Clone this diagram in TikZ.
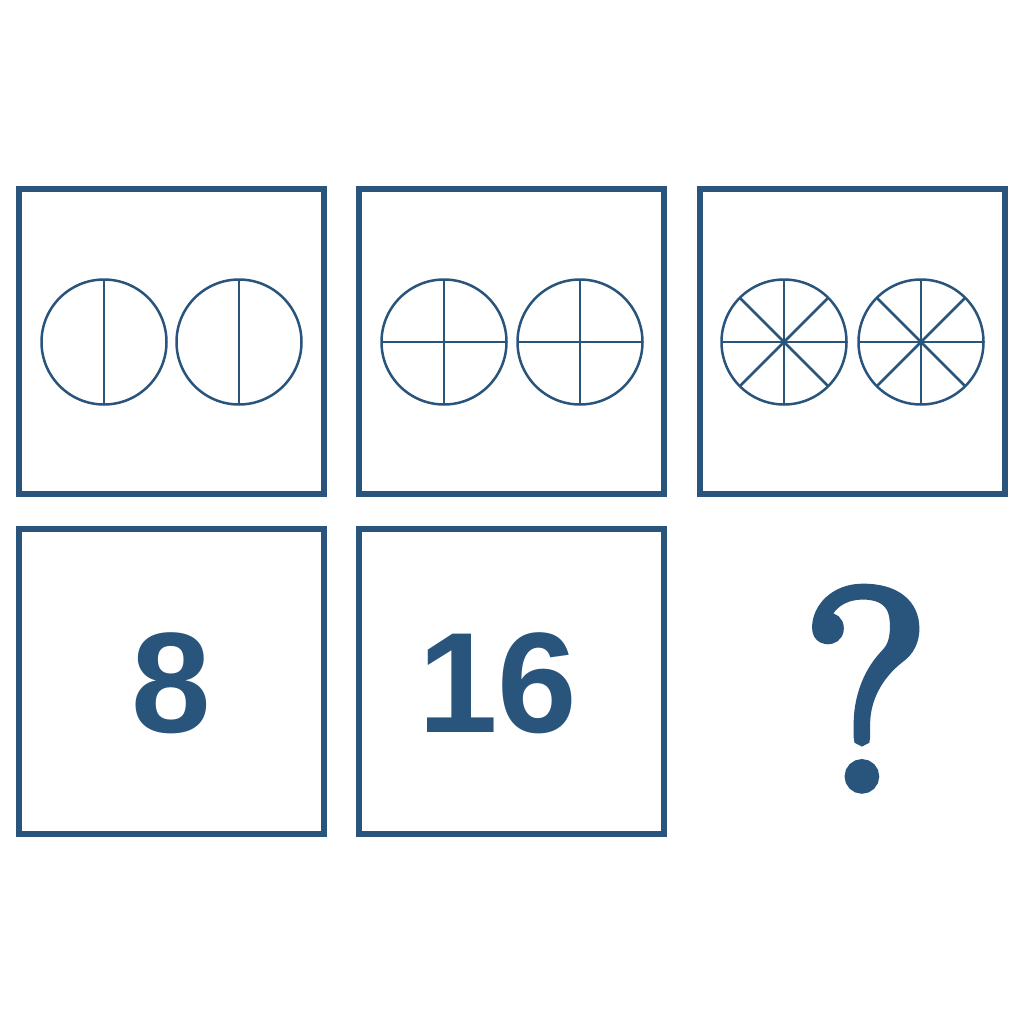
\documentclass[tikz,border=0pt]{standalone}
\usepackage{fontspec}
\usetikzlibrary{calc}
\setmainfont{Liberation Sans}
\newfontfamily\qfont[FakeBold=4]{Latin Modern Roman}
\definecolor{navy}{RGB}{41,84,124}
\begin{document}
\begin{tikzpicture}[x=1pt,y=-1pt,
  panel/.style={draw=navy,line width=6pt},
  disc/.style={draw=navy,line width=2.5pt},
  numtext/.style={text=navy,font=\fontsize{143}{143}\selectfont\bfseries,inner sep=0pt,anchor=base},
  qtext/.style={text=navy,font=\qfont\fontsize{283}{283}\selectfont,inner sep=0pt,anchor=base}]
\useasboundingbox (0,0) rectangle (1024,1024);
% panels
\node[panel,minimum size=305pt,inner sep=0pt] (p1) at (171.5,341.5) {};
\node[panel,minimum size=305pt,inner sep=0pt] (p2) at (511.5,341.5) {};
\node[panel,minimum size=305pt,inner sep=0pt] (p3) at (852.5,341.5) {};
\node[panel,minimum size=305pt,inner sep=0pt] (p4) at (171.5,681.5) {};
\node[panel,minimum size=305pt,inner sep=0pt] (p5) at (511.5,681.5) {};
% circles row: halves
\foreach \cx in {104,239}{
  \draw[disc] (\cx,342) circle (62.5);
  \draw[disc] (\cx,279.5) -- (\cx,404.5);
}
% quarters
\foreach \cx in {444,580}{
  \draw[disc] (\cx,342) circle (62.5);
  \draw[disc] (\cx,279.5) -- (\cx,404.5);
  \draw[disc] (\cx-62.5,342) -- (\cx+62.5,342);
}
% eighths
\foreach \cx in {784,921}{
  \draw[disc] (\cx,342) circle (62.5);
  \foreach \a in {0,45,...,135}{
    \draw[disc] ($(\cx,342)+(\a:62.5)$) -- ($(\cx,342)+(\a+180:62.5)$);
  }
}
% numbers
\node[numtext] (n8) at (171,732) {8};
\node[numtext] (n16) at (498,732) {16};
\node[qtext] (q) at (866,788) {?};
\end{tikzpicture}
\end{document}
